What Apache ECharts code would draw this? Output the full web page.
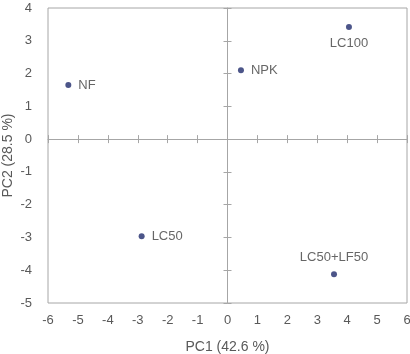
<!DOCTYPE html>
<html>
<head>
<meta charset="utf-8">
<script src="https://cdn.jsdelivr.net/npm/echarts@6/dist/echarts.min.js"></script>
<style>
  html, body { margin: 0; padding: 0; background: #fff; }
  #chart { width: 410px; height: 354px; }
</style>
</head>
<body>
<div id="chart"></div>
<script>
// PCA scores
const treatments = ['NF', 'NPK', 'LC100', 'LC50', 'LC50+LF50'];
const pc1 = [-5.32, 0.45, 4.06, -2.87, 3.56];
const pc2 = [1.65, 2.10, 3.42, -2.96, -4.12];

// where each point label sits
const labelSide = { 'NF': 'right', 'NPK': 'right', 'LC100': 'bottom', 'LC50': 'right', 'LC50+LF50': 'top' };

const gray = '#a6a6a6';
const textColor = '#595959';
const font = 'Liberation Sans';

const myChart = echarts.init(document.getElementById('chart'));

function xAx(kind) {
  const a = {
    type: 'value', min: -6, max: 6, interval: 1,
    splitLine: { show: false },
    axisLabel: { show: false },
    axisTick: { show: false },
    axisLine: { show: false }
  };
  if (kind === 'label') {
    a.axisLine = { show: false, onZero: false };
    a.position = 'bottom';
    a.axisLabel = { show: true, color: textColor, fontSize: 13, fontFamily: font, margin: 11 };
    a.name = 'PC1 (42.6 %)';
    a.nameLocation = 'middle';
    a.nameGap = 37;
    a.nameMoveOverlap = false;
    a.nameTextStyle = { color: textColor, fontSize: 14, fontFamily: font };
  } else {
    a.axisLine = { show: kind === 'in', onZero: true, onZeroAxisIndex: 0, lineStyle: { color: gray, width: 1 } };
    a.axisTick = { show: true, inside: kind === 'in', length: 4, lineStyle: { color: gray } };
  }
  return a;
}

function yAx(kind) {
  const a = {
    type: 'value', min: -5, max: 4, interval: 1,
    splitLine: { show: false },
    axisLabel: { show: false },
    axisTick: { show: false },
    axisLine: { show: false }
  };
  if (kind === 'label') {
    a.axisLine = { show: false, onZero: false };
    a.position = 'left';
    a.axisLabel = { show: true, color: textColor, fontSize: 13, fontFamily: font, margin: 16 };
    a.name = 'PC2 (28.5 %)';
    a.nameLocation = 'middle';
    a.nameGap = 33;
    a.nameMoveOverlap = false;
    a.nameTextStyle = { color: textColor, fontSize: 14, fontFamily: font };
  } else {
    a.axisLine = { show: kind === 'in', onZero: true, onZeroAxisIndex: 0, lineStyle: { color: gray, width: 1 } };
    a.axisTick = { show: true, inside: kind === 'in', length: 4, lineStyle: { color: gray } };
  }
  return a;
}

const points = treatments.map((n, i) => ({
  value: [pc1[i], pc2[i]],
  name: n,
  label: { position: labelSide[n] }
}));

const option = {
  animation: false,
  grid: {
    left: 48, top: 8, right: 3, bottom: 51,
    outerBoundsMode: 'none',
    containLabel: false,
    show: true, borderColor: gray, borderWidth: 1, backgroundColor: '#fff'
  },
  xAxis: [xAx('label'), xAx('in'), xAx('out')],
  yAxis: [yAx('label'), yAx('in'), yAx('out')],
  series: [
    {
      type: 'scatter',
      xAxisIndex: 0,
      yAxisIndex: 0,
      symbolSize: 6,
      itemStyle: { color: '#1f2a6b' },
      label: {
        show: true,
        formatter: '{b}',
        distance: 7,
        color: '#404040',
        fontSize: 13,
        fontFamily: font
      },
      data: points
    }
  ]
};

myChart.setOption(option);
</script>
</body>
</html>
